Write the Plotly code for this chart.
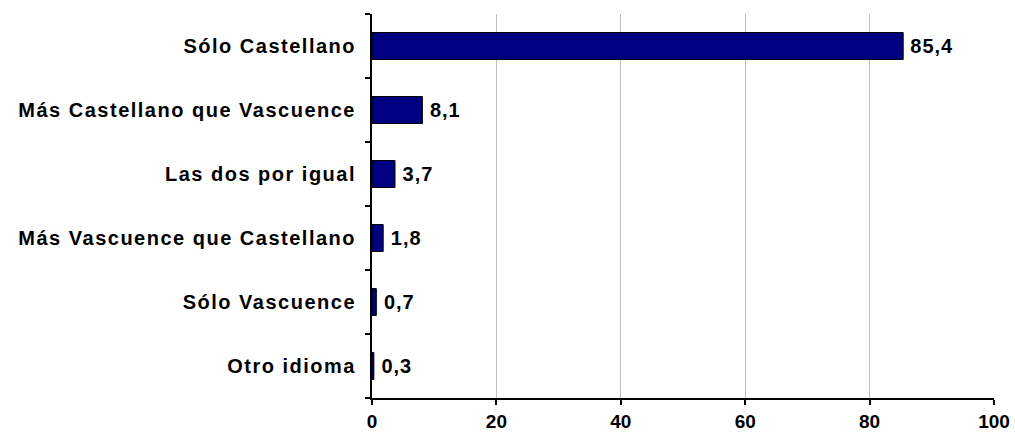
import plotly.graph_objects as go

# Language used, share of respondents (%)
categories = [
    "Otro idioma",
    "Sólo Vascuence",
    "Más Vascuence que Castellano",
    "Las dos por igual",
    "Más Castellano que Vascuence",
    "Sólo Castellano",
]
values = [0.3, 0.7, 1.8, 3.7, 8.1, 85.4]
x_ticks = [0, 20, 40, 60, 80, 100]

font_family = "Liberation Sans, Arial, sans-serif"

fig = go.Figure(
    go.Bar(
        x=values,
        y=categories,
        orientation="h",
        marker=dict(color="#000080", line=dict(color="#000000", width=1)),
        texttemplate="<b>\u00a0%{x:.1f}</b>",
        textposition="outside",
        textfont=dict(family=font_family, size=20, color="#000000"),
        cliponaxis=False,
        width=0.42,
    )
)

fig.update_layout(
    width=1015,
    height=437,
    margin=dict(l=372, r=21, t=14, b=39, autoexpand=False),
    plot_bgcolor="#ffffff",
    paper_bgcolor="#ffffff",
    separators=", ",
    showlegend=False,
    font=dict(family=font_family, size=20, color="#000000"),
)

fig.update_xaxes(
    range=[0, 100],
    tickvals=x_ticks,
    ticktext=[f"<b>{t}</b>" for t in x_ticks],
    showgrid=True,
    gridcolor="#c0c0c0",
    gridwidth=1,
    zeroline=False,
    showline=True,
    linecolor="#000000",
    linewidth=2,
    ticks="outside",
    ticklen=5,
    tickwidth=2,
    tickcolor="#000000",
    ticklabelstandoff=0,
    tickfont=dict(family=font_family, size=19),
    automargin=False,
)

fig.update_yaxes(
    categoryorder="array",
    categoryarray=categories,
    tickvals=categories,
    ticktext=[f"<b>{c}</b>" for c in categories],
    showgrid=False,
    showline=True,
    linecolor="#000000",
    linewidth=2,
    ticks="outside",
    tickson="boundaries",
    ticklen=5,
    tickwidth=2,
    tickcolor="#000000",
    ticklabelstandoff=10,
    tickfont=dict(family=font_family, size=20),
    automargin=False,
)

# Loose tracking on the category and value labels
spacing_css = """
var s = document.createElement('style');
s.textContent = '.ytick text { letter-spacing: 1.5px; } .bartext { letter-spacing: 1px; }';
document.head.appendChild(s);
"""

fig.write_html("out.html", post_script=spacing_css)
